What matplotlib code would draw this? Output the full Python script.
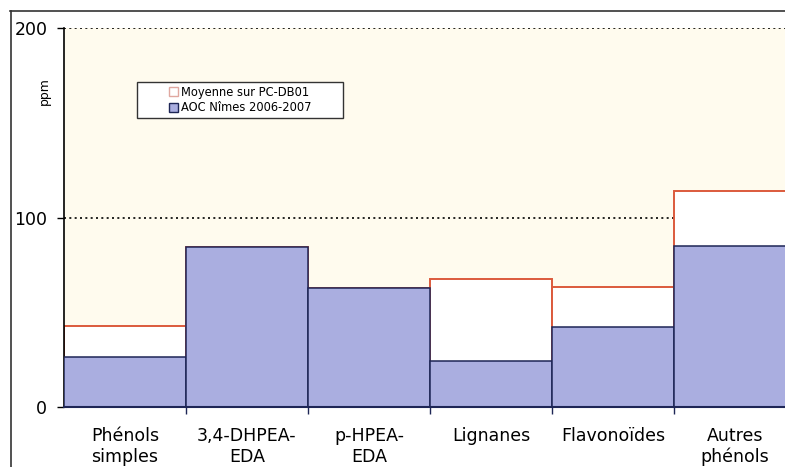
import matplotlib.pyplot as plt
import numpy as np
from matplotlib.patches import Patch, Rectangle
from matplotlib.lines import Line2D

categories = ["Phénols\nsimples", "3,4-DHPEA-\nEDA", "p-HPEA-\nEDA",
              "Lignanes", "Flavonoïdes", "Autres\nphénols"]
moyenne_pc_db01 = [42.7, 84.4, 63.2, 67.5, 63.5, 114.1]
aoc_nimes = [26.4, 84.4, 63.2, 24.3, 42.4, 85.0]

cream = "#FFFBEE"
blue = "#AAAEE0"
navy = "#1E2656"
red = "#DC5A3C"

W, H = 785, 467
fig = plt.figure(figsize=(W / 100, H / 100), dpi=100)
ax = fig.add_axes([64 / W, 1 - 407.3 / H, (W - 64) / W, (407.3 - 28.3) / H])
ax.set_facecolor(cream)

x = np.arange(len(categories))
ax.bar(x, moyenne_pc_db01, width=1, align="edge", color="white",
       edgecolor=red, linewidth=1.4, zorder=2)
ax.bar(x, aoc_nimes, width=1, align="edge", color=blue,
       edgecolor=navy, linewidth=1.1, zorder=3)

ax.set_xlim(0, (W - 64) / 122.0)
ax.set_ylim(0, 200)
ax.set_yticks([0, 100, 200])
ax.tick_params(axis="y", labelsize=12.5, length=5, pad=7, width=1)

ax.set_xticks(x[1:])
ax.set_xticklabels([])
ax.set_xticks(x + 0.5, categories, minor=True)
ax.tick_params(axis="x", which="major", length=5, color=navy, width=1)
ax.tick_params(axis="x", which="minor", length=0, labelsize=12.5, pad=14)

ax.yaxis.grid(True, linestyle=(0, (1.2, 2.0)), color="black", linewidth=1.2)
ax.set_axisbelow(True)

for s in ["top", "right"]:
    ax.spines[s].set_visible(False)
ax.spines["bottom"].set_color(navy)
ax.spines["bottom"].set_linewidth(1.5)
ax.spines["left"].set_linewidth(1.2)
ax.spines["bottom"].set_zorder(4)

fig.text(44 / W, 1 - 91 / H, "ppm", rotation=90, ha="center", va="center",
         fontsize=9)

# legend box
fig.patches.append(Rectangle((137 / W, 1 - 118 / H), (343 - 137) / W, 36 / H,
                             transform=fig.transFigure, facecolor="white",
                             edgecolor="#333333", linewidth=1, zorder=5))
handles = [Patch(facecolor="white", edgecolor="#E0A8A0", label="Moyenne sur PC-DB01"),
           Patch(facecolor=blue, edgecolor=navy, label="AOC Nîmes 2006-2007")]
fig.legend(handles=handles, loc="center", bbox_to_anchor=(240 / W, 1 - 100 / H),
           frameon=False, fontsize=8.3, handlelength=0.8, handleheight=0.8,
           handletextpad=0.2, labelspacing=0.25, borderpad=0)

# outer frame
fig.add_artist(Line2D([10.5 / W, 10.5 / W], [0, 1 - 11 / H], color="#333333",
                      linewidth=1.2, transform=fig.transFigure))
fig.add_artist(Line2D([10 / W, 1], [1 - 11 / H, 1 - 11 / H], color="#333333",
                      linewidth=1.2, transform=fig.transFigure))

fig.savefig("out.png", dpi=100)
